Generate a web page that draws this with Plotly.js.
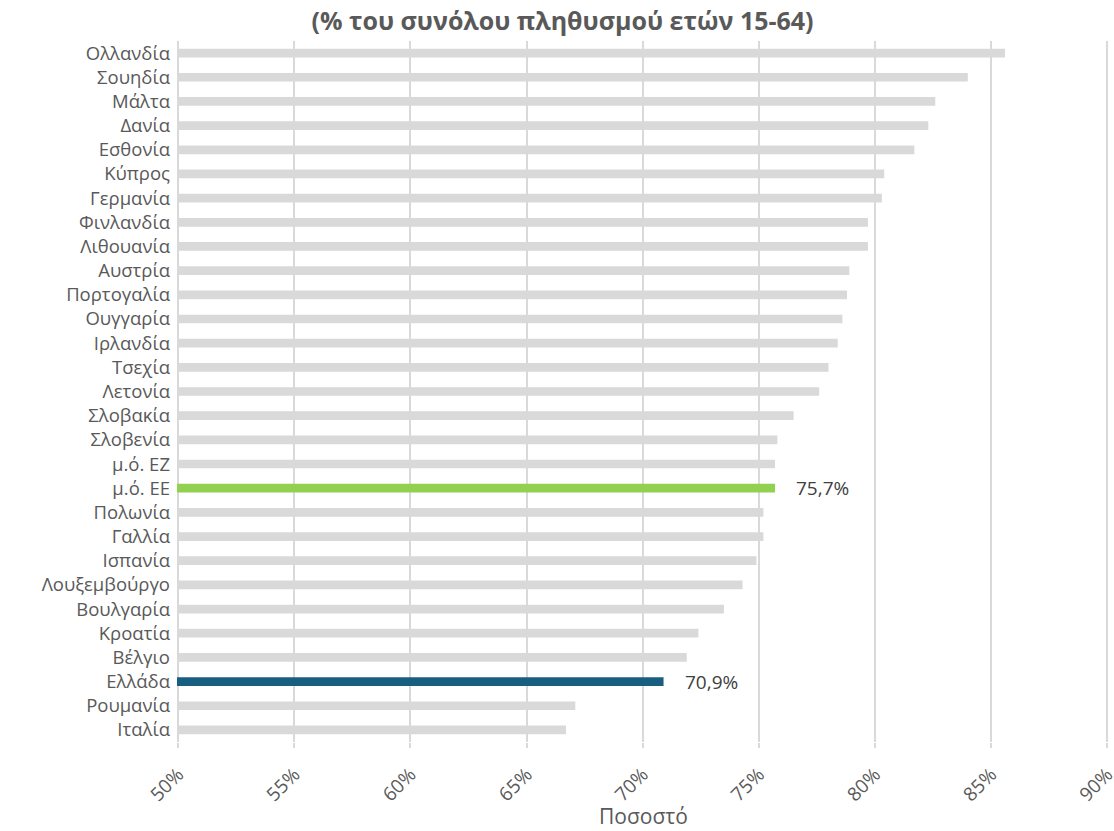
<!DOCTYPE html>
<html>
<head>
<meta charset="utf-8">
<script src="https://cdn.plot.ly/plotly-3.0.1.min.js"></script>
<style>html,body{margin:0;padding:0;background:#fff;}#chart{width:1114px;height:831px;}</style>
</head>
<body>
<div id="chart"></div>
<script>
const countries = ["Ολλανδία","Σουηδία","Μάλτα","Δανία","Εσθονία","Κύπρος","Γερμανία","Φινλανδία","Λιθουανία","Αυστρία","Πορτογαλία","Ουγγαρία","Ιρλανδία","Τσεχία","Λετονία","Σλοβακία","Σλοβενία","μ.ό. ΕΖ","μ.ό. ΕΕ","Πολωνία","Γαλλία","Ισπανία","Λουξεμβούργο","Βουλγαρία","Κροατία","Βέλγιο","Ελλάδα","Ρουμανία","Ιταλία"];
const values = [85.6,84.0,82.6,82.3,81.7,80.4,80.3,79.7,79.7,78.9,78.8,78.6,78.4,78.0,77.6,76.5,75.8,75.7,75.7,75.2,75.2,74.9,74.3,73.5,72.4,71.9,70.9,67.1,66.7];
const highlight = {"μ.ό. ΕΕ":"#92d050","Ελλάδα":"#175e80"};
const labelled = ["μ.ό. ΕΕ","Ελλάδα"];
const tickVals = [50,55,60,65,70,75,80,85,90];
const titleText = "(% του συνόλου πληθυσμού ετών 15-64)";
const xTitleText = "Ποσοστό";

const colors = countries.map(c => highlight[c] || "#d9d9d9");
const annotations = labelled.map(c => {
  const v = values[countries.indexOf(c)];
  return {x: v, y: c, xref: "x", yref: "y", text: v.toFixed(1).replace(".", ",") + "%",
    showarrow: false, xanchor: "left", xshift: 19, font: {family: "Open Sans", size: 19, color: "#404040"}};
});
annotations.push({x: 0.5, y: -0.106, xref: "paper", yref: "paper", yanchor: "middle",
  text: xTitleText, showarrow: false, font: {family: "Open Sans", size: 21, color: "#595959"}});

Plotly.newPlot("chart", [{
  type: "bar", orientation: "h", y: countries, x: values,
  marker: {color: colors}, hoverinfo: "none"
}], {
  width: 1114, height: 831,
  margin: {l: 177, r: 5, t: 41, b: 89},
  paper_bgcolor: "#fff", plot_bgcolor: "#fff",
  bargap: 0.64,
  showlegend: false,
  title: {text: "<b>" + titleText + "</b>", xref: "container", x: 0.505, y: 0.974, yanchor: "middle",
    font: {family: "Open Sans", size: 25, color: "#595959"}},
  xaxis: {range: [49.95, 90.08], tickvals: tickVals, ticktext: tickVals.map(v => v + "%"),
    tickangle: -45, showgrid: true, gridcolor: "#d9d9d9", gridwidth: 2,
    zeroline: false, showline: false, ticks: "outside", ticklen: 5, tickcolor: "#d9d9d9", tickwidth: 2,
    ticklabelstandoff: 8, ticklabeloverflow: "allow",
    tickfont: {family: "Open Sans", size: 19, color: "#595959"}},
  yaxis: {autorange: "reversed", showgrid: false, ticks: "", ticklen: 0, ticklabelstandoff: 6,
    tickfont: {family: "Open Sans", size: 18.5, color: "#595959"}},
  annotations: annotations
}, {displayModeBar: false, staticPlot: true});
</script>
</body>
</html>
